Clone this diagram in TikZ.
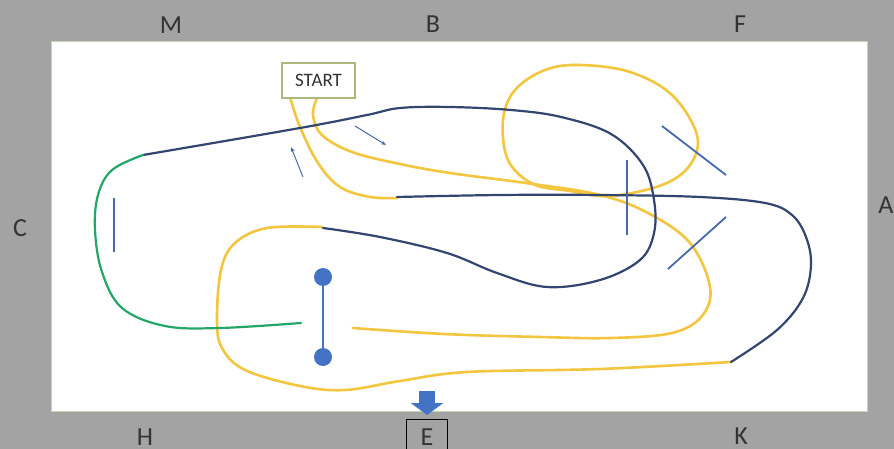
\documentclass[tikz,border=0pt]{standalone}
\usepackage{fontspec}
\setmainfont{Carlito}
\usetikzlibrary{arrows.meta, positioning}
\definecolor{trackGold}{RGB}{242,198,62}
\definecolor{trackNavy}{RGB}{50,70,112}
\definecolor{trackGreen}{RGB}{36,166,104}
\definecolor{markBlue}{RGB}{68,114,196}
\definecolor{tickBlue}{RGB}{72,104,172}
\definecolor{frameGray}{RGB}{163,163,163}
\definecolor{frameEdge}{RGB}{196,214,176}
\definecolor{startEdge}{RGB}{172,184,124}

\begin{document}
\begin{tikzpicture}[x=1pt, y=-1pt,
    gold/.style={draw=trackGold, line width=2.6pt, line cap=round},
    navy/.style={draw=trackNavy, line width=2.2pt, line cap=round},
    greenline/.style={draw=trackGreen, line width=2.2pt, line cap=round},
    tickline/.style={draw=tickBlue, line width=1.8pt},
    side/.style={font=\fontsize{26}{28}\selectfont, text=black!80, inner sep=0pt},
    flow/.style={draw=tickBlue, line width=1pt, -{Stealth[length=5pt,width=4pt]}},
    bell/.style={circle, fill=markBlue, minimum size=18pt, inner sep=0pt}
  ]
  % background and field
  \useasboundingbox[fill=frameGray] (0,0) rectangle (894,449);
  \fill[white, draw=frameEdge, line width=1pt] (51,42) rectangle (867,411);

  % side labels
  \node[side] (labM) at (171,25) {M};
  \node[side] (labB) at (433,24) {B};
  \node[side] (labF) at (740,24) {F};
  \node[side] (labC) at (20,228) {C};
  \node[side] (labA) at (886,205) {A};
  \node[side] (labH) at (145,437) {H};
  \node[side] (labK) at (741,436) {K};
  \node[side, draw=black, line width=1pt, minimum width=41pt, minimum height=36pt, anchor=north] (labE) at (427,419) {E};
  \draw[markBlue, line width=16pt, -{Triangle[length=12pt,width=32pt]}]
    ([yshift=28pt]labE.north) -- ([yshift=4pt]labE.north);

  % yellow track
  \draw[gold] plot[smooth, tension=0.6] coordinates {(290,97) (300,127) (318,163) (340,187) (370,197) (397,198)};
  \draw[gold] plot[smooth, tension=0.6] coordinates {(317,98) (313,115) (322,135) (352,152) (400,164) (450,173)
    (533,184) (600,195) (648,213) (690,243) (710,287) (702,316) (672,333) (611,338) (540,337) (444,334) (353,328)};
  \draw[gold] plot[smooth cycle, tension=0.6] coordinates {(533,184) (508,160) (503,120) (515,90) (545,70) (580,65)
    (630,72) (672,95) (697,135) (690,165) (662,185) (610,196) (570,191)};
  \draw[gold] plot[smooth, tension=0.6] coordinates {(322,227) (267,228) (235,243) (221,270) (217,320) (222,348)
    (245,370) (300,386) (345,390) (400,381) (467,372) (600,369) (731,362)};

  % dark blue track
  \draw[navy] plot[smooth, tension=0.6] coordinates {(143,155) (300,128) (367,115) (400,108) (450,107) (511,110)
    (561,117) (611,134) (643,165) (654,200) (654,233) (640,260) (600,280) (547,287) (497,273) (447,253)
    (380,237) (323,228)};
  \draw[navy] plot[smooth, tension=0.6] coordinates {(397,197) (500,195) (600,195) (700,197) (765,203) (792,215)
    (806,237) (811,265) (803,298) (777,330) (731,362)};

  % green track
  \draw[greenline] plot[smooth, tension=0.6] coordinates {(143,155) (112,170) (98,195) (95,230) (102,272)
    (122,308) (165,326) (220,328) (301,323)};

  % marks
  \draw[tickline] (114,198) -- (114,252);
  \draw[tickline] (627,160) -- (627,235);
  \draw[tickline] (662,126) -- (726,175);
  \draw[tickline] (726,217) -- (668,269);
  \draw[flow] (303,177) -- (291,147);
  \draw[flow] (355,126) -- (386,145);

  % dumbbell
  \node[bell] (bellTop) at (323,277) {};
  \node[bell] (bellBot) at (323,357) {};
  \draw[markBlue, line width=2pt] (bellTop) -- (bellBot);

  % start box
  \node[draw=startEdge, line width=1.2pt, fill=white, minimum width=73pt, minimum height=35pt,
    font=\fontsize{19}{22}\selectfont, text=black!80] (start) at (318.5,80.5) {START};
\end{tikzpicture}
\end{document}
